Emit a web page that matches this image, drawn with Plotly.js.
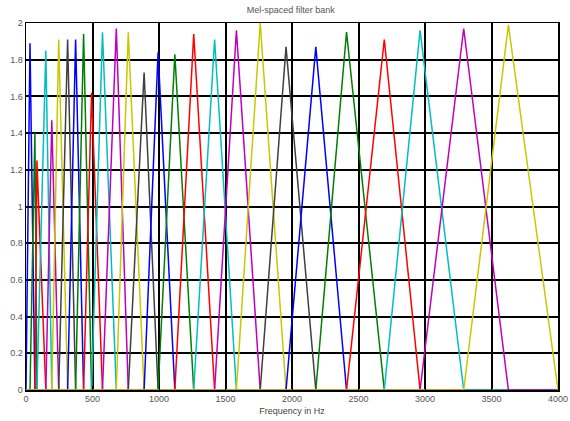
<!DOCTYPE html>
<html>
<head>
<meta charset="utf-8">
<script src="https://cdn.plot.ly/plotly-3.0.1.min.js"></script>
<style>html,body{margin:0;padding:0;background:#fff;}#chart{width:570px;height:421px;}</style>
</head>
<body>
<div id="chart"></div>
<script>
// Filter peak frequencies (Hz)
const peakFreq = [30, 67, 82, 149, 194, 246, 313, 373, 433, 493, 575, 679, 769, 888, 993,
  1119, 1261, 1418, 1582, 1761, 1955, 2179, 2410, 2694, 2963, 3291, 3627];
// Filter peak heights
const peakHeight = [1.89, 1.40, 1.25, 1.85, 1.47, 1.91, 1.91, 1.91, 1.94, 1.62, 1.95, 1.97, 1.95, 1.73, 1.84,
  1.83, 1.94, 1.91, 1.96, 2.00, 1.87, 1.87, 1.95, 1.91, 1.96, 1.97, 1.99];
// MATLAB default colour cycle: b g r c m y k
const colorCycle = ['#0000ff', '#008000', '#ff0000', '#00bfbf', '#bf00bf', '#c8c800', '#404040'];
const xTicks = [0, 500, 1000, 1500, 2000, 2500, 3000, 3500, 4000];
const yTicks = [0, 0.2, 0.4, 0.6, 0.8, 1, 1.2, 1.4, 1.6, 1.8, 2];
const fMax = 4000;

const traces = peakFreq.map((f, i) => {
  const left = i === 0 ? 0 : peakFreq[i - 1];
  const right = i === peakFreq.length - 1 ? fMax : peakFreq[i + 1];
  return {
    x: [0, left, f, right, fMax],
    y: [0, 0, peakHeight[i], 0, 0],
    mode: 'lines',
    type: 'scatter',
    line: {color: colorCycle[i % colorCycle.length], width: 1.5},
    hoverinfo: 'skip'
  };
});

const axisCommon = {
  showline: true, mirror: 'ticks', linecolor: '#000', linewidth: 1.5,
  ticks: 'inside', ticklen: 4, tickcolor: '#000',
  showgrid: true, gridcolor: '#000', gridwidth: 2,
  zeroline: false, ticklabeloverflow: 'allow',
  tickfont: {family: 'Liberation Sans, Arial, sans-serif', size: 9, color: '#555'}
};

const layout = {
  width: 570, height: 421,
  margin: {l: 26, r: 12, t: 23, b: 31},
  paper_bgcolor: '#fff', plot_bgcolor: '#fff',
  showlegend: false,
  title: {text: 'Mel-spaced filter bank', x: 0.51, xanchor: 'center', y: 0.985, yanchor: 'top',
    font: {family: 'Liberation Sans, Arial, sans-serif', size: 9, color: '#555'}},
  xaxis: Object.assign({}, axisCommon, {
    range: [0, fMax], tickvals: xTicks, ticktext: xTicks.map(String),
    title: {text: 'Frequency in Hz', standoff: 4,
      font: {family: 'Liberation Sans, Arial, sans-serif', size: 9, color: '#444'}}
  }),
  yaxis: Object.assign({}, axisCommon, {
    range: [0, 2], tickvals: yTicks, ticktext: yTicks.map(String)
  })
};

Plotly.newPlot('chart', traces, layout, {displayModeBar: false, staticPlot: true});
</script>
</body>
</html>
